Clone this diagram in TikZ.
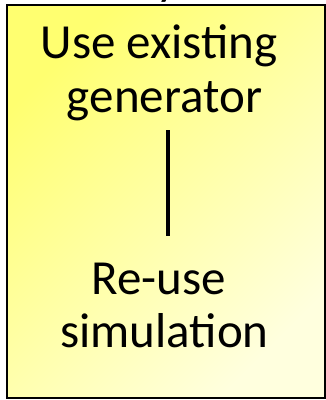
\documentclass[tikz,border=0pt]{standalone}
\usepackage{fontspec}
\setmainfont{Carlito}
\definecolor{yelTL}{RGB}{255,255,112}
\definecolor{yelMid}{RGB}{255,255,165}
\definecolor{yelBR}{RGB}{255,255,222}
\begin{document}
\begin{tikzpicture}[x=1pt,y=1pt,
  bigtext/.style={font=\fontsize{49pt}{53.5pt}\selectfont, align=center, inner sep=0pt},
  link/.style={line width=4pt},
  panel/.style={draw=black, line width=2pt, top color=yelTL, middle color=yelMid, bottom color=yelBR, shading angle=45}]
\useasboundingbox (0,0) rectangle (326,400);
\clip (0,0) rectangle (326,400);
\node[bigtext, anchor=base] (frag) at (168,405) {y};
\path[panel] (7,1.5) rectangle (325,395);
\node[bigtext] (gen) at (164.5,327) {Use existing\kern11pt\\generator};
\node[bigtext] (sim) at (164.5,94.5) {Re-use\kern11pt\\simulation};
\draw[link, shorten <=9pt, shorten >=27pt] ([xshift=3.5pt]gen.south) -- ([xshift=3.5pt]sim.north);
\end{tikzpicture}
\end{document}
